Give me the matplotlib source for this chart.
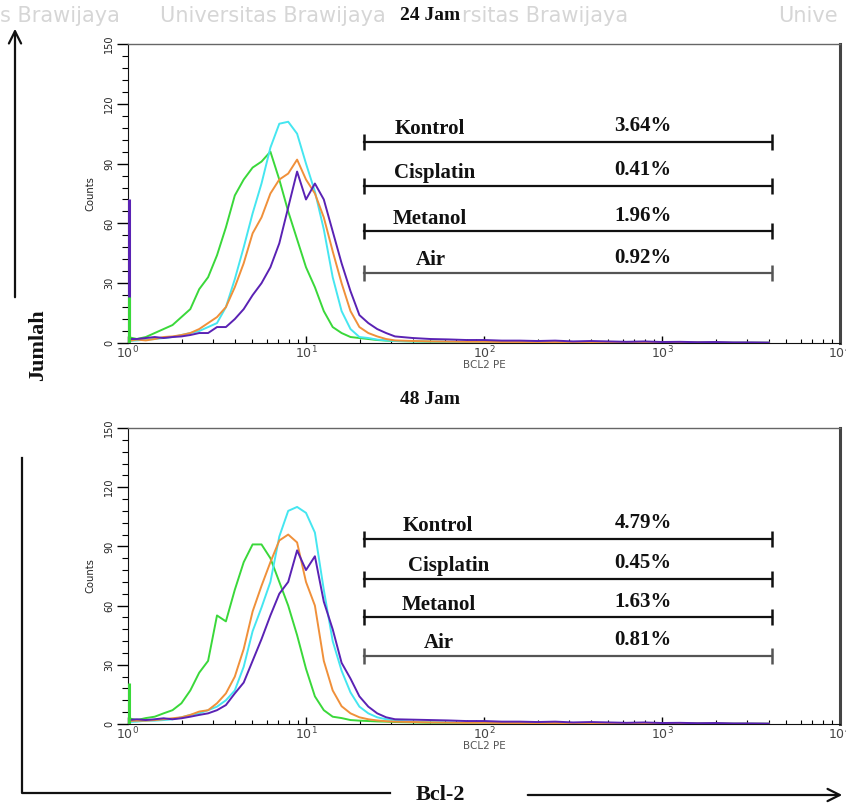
import numpy as np
import matplotlib
matplotlib.use("Agg")
import matplotlib.pyplot as plt
from matplotlib.ticker import MultipleLocator, LogLocator, NullFormatter

# histogram channel positions (log10 of BCL2 PE intensity)
log_channel = [0.00, 0.05, 0.10, 0.15, 0.20, 0.25, 0.30, 0.35, 0.40, 0.45,
               0.50, 0.55, 0.60, 0.65, 0.70, 0.75, 0.80, 0.85, 0.90, 0.95,
               1.00, 1.05, 1.10, 1.15, 1.20, 1.25, 1.30, 1.35, 1.40, 1.45,
               1.50, 1.60, 1.70, 1.80, 1.90, 2.00, 2.10, 2.20, 2.30, 2.40,
               2.50, 2.60, 2.70, 2.80, 2.90, 3.00, 3.10, 3.20, 3.30, 3.40,
               3.50, 3.60]

# 24 Jam counts
green_24 = [3, 2, 3, 5, 7, 9, 13, 17, 27, 33, 44, 58, 74, 82, 88, 91, 96, 82, 66, 52,
            38, 28, 16, 8, 5, 3, 2.5, 2, 1.5, 1.2, 1,
            0.8, 0.6, 0.5, 0.5, 0.4, 0.4, 0.3, 0.4, 0.3, 0.3, 0.2, 0.3, 0.2, 0.2, 0.2,
            0.1, 0.2, 0.1, 0.1, 0.1, 0.1]
cyan_24 = [1, 1.3, 1.7, 2, 2.5, 3, 4, 5, 6, 8, 10, 18, 32, 48, 65, 80, 98, 110, 111, 105,
           90, 76, 57, 33, 16, 7, 3, 2.5, 1.7, 1.3, 1,
           0.8, 0.7, 0.6, 0.5, 0.5, 0.4, 0.5, 0.4, 0.3, 0.4, 0.3, 0.3, 0.2, 0.3, 0.2,
           0.2, 0.1, 0.2, 0.1, 0.1, 0.1]
orange_24 = [1, 1.7, 1.3, 2, 3, 3.3, 4, 5, 7, 10, 13, 18, 28, 40, 55, 63, 75, 82, 85, 92,
             82, 75, 63, 46, 30, 16, 8, 5, 3.3, 2, 1.3,
             1.0, 0.8, 0.7, 0.6, 0.6, 0.5, 0.5, 0.4, 0.5, 0.4, 0.3, 0.4, 0.3, 0.3, 0.2,
             0.3, 0.2, 0.2, 0.1, 0.1, 0.1]
purple_24 = [2, 2, 2.5, 3, 2.5, 3, 3.3, 4, 5, 5, 8, 8, 12, 17, 24, 30, 38, 50, 68, 86,
             72, 80, 72, 56, 40, 26, 14, 10, 7, 5, 3.3,
             2.5, 2, 1.8, 1.5, 1.5, 1.2, 1.2, 1, 1.2, 0.8, 1, 0.8, 0.6, 0.8, 0.5,
             0.6, 0.4, 0.5, 0.3, 0.3, 0.2]

# 48 Jam counts
green_48 = [3, 2, 3, 3.7, 5.4, 7, 10.5, 17, 26, 32, 55, 52, 68, 82, 91, 91, 84, 72, 60, 45,
            28, 14, 7, 3.7, 3, 2, 1.7, 1.5, 1.3, 1.2, 1,
            0.8, 0.6, 0.5, 0.5, 0.4, 0.4, 0.3, 0.4, 0.3, 0.3, 0.2, 0.3, 0.2, 0.2, 0.2,
            0.1, 0.2, 0.1, 0.1, 0.1, 0.1]
cyan_48 = [1, 1.2, 1.7, 1.7, 2, 2.4, 3.4, 4.6, 5.4, 7, 8.8, 12, 17, 29, 47, 59, 72, 95, 108, 110,
           107, 97, 68, 42, 27, 16, 8.8, 5.4, 3.4, 2.4, 1.7,
           1.2, 0.9, 0.8, 0.7, 0.6, 0.5, 0.5, 0.4, 0.5, 0.4, 0.3, 0.4, 0.3, 0.3, 0.2,
           0.3, 0.2, 0.2, 0.1, 0.1, 0.1]
orange_48 = [1.5, 1.7, 1.7, 2, 2.4, 2.9, 3.4, 4.6, 6.3, 7, 10.5, 15.5, 24, 38, 57, 70, 82, 93, 96, 92,
             72, 60, 32, 17, 9, 5.4, 3.4, 2.4, 1.8, 1.4, 1.2,
             1.0, 0.8, 0.7, 0.6, 0.6, 0.5, 0.5, 0.4, 0.5, 0.4, 0.3, 0.4, 0.3, 0.3, 0.2,
             0.3, 0.2, 0.2, 0.1, 0.1, 0.1]
purple_48 = [2, 2.4, 2, 2.4, 2.9, 2.4, 2.9, 3.7, 4.6, 5.4, 7, 9.6, 15.5, 21, 32, 43, 55, 66, 72, 88,
             78, 85, 62, 48, 31, 23, 14, 8.8, 5.4, 3.4, 2.4,
             2.2, 2, 1.8, 1.5, 1.5, 1.2, 1.2, 1, 1.2, 0.8, 1, 0.8, 0.6, 0.8, 0.5,
             0.6, 0.4, 0.5, 0.3, 0.3, 0.2]

# spikes in the first channel (10^0)
spike_24 = {"purple": 72, "green": 23}
spike_48 = {"purple": 2, "green": 21}

# gates
gate_names = ["Kontrol", "Cisplatin", "Metanol", "Air"]
gate_pct_24 = ["3.64%", "0.41%", "1.96%", "0.92%"]
gate_pct_48 = ["4.79%", "0.45%", "1.63%", "0.81%"]
gate_level_24 = [101, 79, 56, 35]
gate_level_48 = [94, 73.5, 54, 34.5]
gate_range = (21.2, 4150)

colors = {"green": "#3ad83a", "cyan": "#45e6f0", "orange": "#f0903a", "purple": "#5a22b4"}

W, H = 846, 810
fig = plt.figure(figsize=(W / 100, H / 100), dpi=100)
fig.patch.set_facecolor("white")

# background overlay in pixel coordinates
bg = fig.add_axes([0, 0, 1, 1], zorder=0)
bg.set_xlim(0, W)
bg.set_ylim(H, 0)
bg.axis("off")

# faint scan watermark along the top
wm = "#d6d6d6"
for x0, word in [(0, "s Brawijaya"), (160, "Universitas Brawijaya"),
                 (462, "rsitas Brawijaya"), (778, "Unive")]:
    bg.text(x0, 16, word, fontsize=15, color=wm, family="DejaVu Sans",
            va="center", ha="left")

serif = "Liberation Serif"
ink = "#111111"
bg.annotate("", xy=(15, 26), xytext=(15, 300),
            arrowprops=dict(arrowstyle="->", lw=1.6, color=ink, mutation_scale=22))
bg.text(38, 345, "Jumlah", rotation=90, fontsize=16, fontweight="bold", family=serif,
        ha="center", va="center", color=ink)
bg.plot([22, 22, 390], [458, 793, 793], color=ink, lw=1.6)
bg.text(440, 795, "Bcl-2", fontsize=16, fontweight="bold", family=serif,
        ha="center", va="center", color=ink)
bg.annotate("", xy=(845, 795), xytext=(525, 795),
            arrowprops=dict(arrowstyle="->", lw=1.6, color=ink, mutation_scale=22))

bg.text(430, 15, "24 Jam", fontsize=14, fontweight="bold", family=serif, ha="center",
        va="center", color=ink)
bg.text(430, 399, "48 Jam", fontsize=14, fontweight="bold", family=serif, ha="center",
        va="center", color=ink)


def draw_panel(rect, series, spikes, levels, pcts, name_x, pct_x):
    ax = fig.add_axes(rect, zorder=2)
    ax.set_facecolor("white")
    xs = 10 ** np.array(log_channel)
    for key in ["green", "cyan", "orange", "purple"]:
        ax.plot(xs, series[key], color=colors[key], lw=1.4, zorder=3)
    for key, h in spikes.items():
        ax.vlines(1.012, 0, h, color=colors[key], lw=2.2, zorder=4)

    for i, (lvl, nm, pc) in enumerate(zip(levels, gate_names, pcts)):
        c = "#555555" if nm == "Air" else "#111111"
        ax.plot(gate_range, [lvl, lvl], color=c, lw=1.6, marker="|", markersize=12,
                mew=1.8, zorder=5)
        ax.annotate(nm, (name_x[i], lvl), xytext=(0, 2), textcoords="offset points",
                    ha="center", va="bottom", fontsize=15, fontweight="bold",
                    family=serif, color=ink)
        ax.annotate(pc, (pct_x, lvl), xytext=(0, 4), textcoords="offset points",
                    ha="center", va="bottom", fontsize=15, fontweight="bold",
                    family=serif, color=ink)

    ax.set_xscale("log")
    ax.set_xlim(1, 1e4)
    ax.set_ylim(0, 150)
    ax.set_yticks([0, 30, 60, 90, 120, 150])
    ax.yaxis.set_minor_locator(MultipleLocator(6))
    ax.xaxis.set_major_locator(LogLocator(base=10, numticks=10))
    ax.xaxis.set_minor_locator(LogLocator(base=10, subs=np.arange(2, 10), numticks=10))
    ax.xaxis.set_minor_formatter(NullFormatter())
    ax.tick_params(axis="y", which="major", length=8, width=1, direction="out",
                   labelsize=7, pad=2, labelrotation=90, labelcolor="#222222")
    ax.tick_params(axis="y", which="minor", length=4, width=0.8, direction="out")
    ax.tick_params(axis="x", which="major", length=5, width=1, direction="in",
                   labelsize=9, pad=1, labelcolor="#444444")
    ax.tick_params(axis="x", which="minor", length=3, width=0.8, direction="in")
    for lab in ax.get_yticklabels():
        lab.set_va("center")
    ax.set_ylabel("Counts", fontsize=8, labelpad=6, color="#222222", family="DejaVu Sans",
                  fontstretch="condensed")
    ax.set_xlabel("BCL2 PE", fontsize=7.5, labelpad=-1, color="#555555")
    ax.spines["left"].set_color("#111111")
    ax.spines["bottom"].set_color("#111111")
    ax.spines["top"].set_color("#666666")
    ax.spines["top"].set_linewidth(1.0)
    ax.spines["right"].set_color("#444444")
    ax.spines["right"].set_linewidth(2.2)
    return ax


def px_rect(left, top, right, bottom):
    return [left / W, 1 - bottom / H, (right - left) / W, (bottom - top) / H]


def px_to_x(px):
    return 10 ** ((px - 130) / 178.0)


series_24 = {"green": green_24, "cyan": cyan_24, "orange": orange_24, "purple": purple_24}
series_48 = {"green": green_48, "cyan": cyan_48, "orange": orange_48, "purple": purple_48}

draw_panel(px_rect(128, 44, 840, 343), series_24, spike_24, gate_level_24, gate_pct_24,
           [px_to_x(p) for p in [432, 437, 432, 433]], px_to_x(645))
draw_panel(px_rect(128, 428, 840, 724), series_48, spike_48, gate_level_48, gate_pct_48,
           [px_to_x(p) for p in [440, 451, 441, 441]], px_to_x(645))

fig.savefig("out.png", dpi=100, facecolor="white")
